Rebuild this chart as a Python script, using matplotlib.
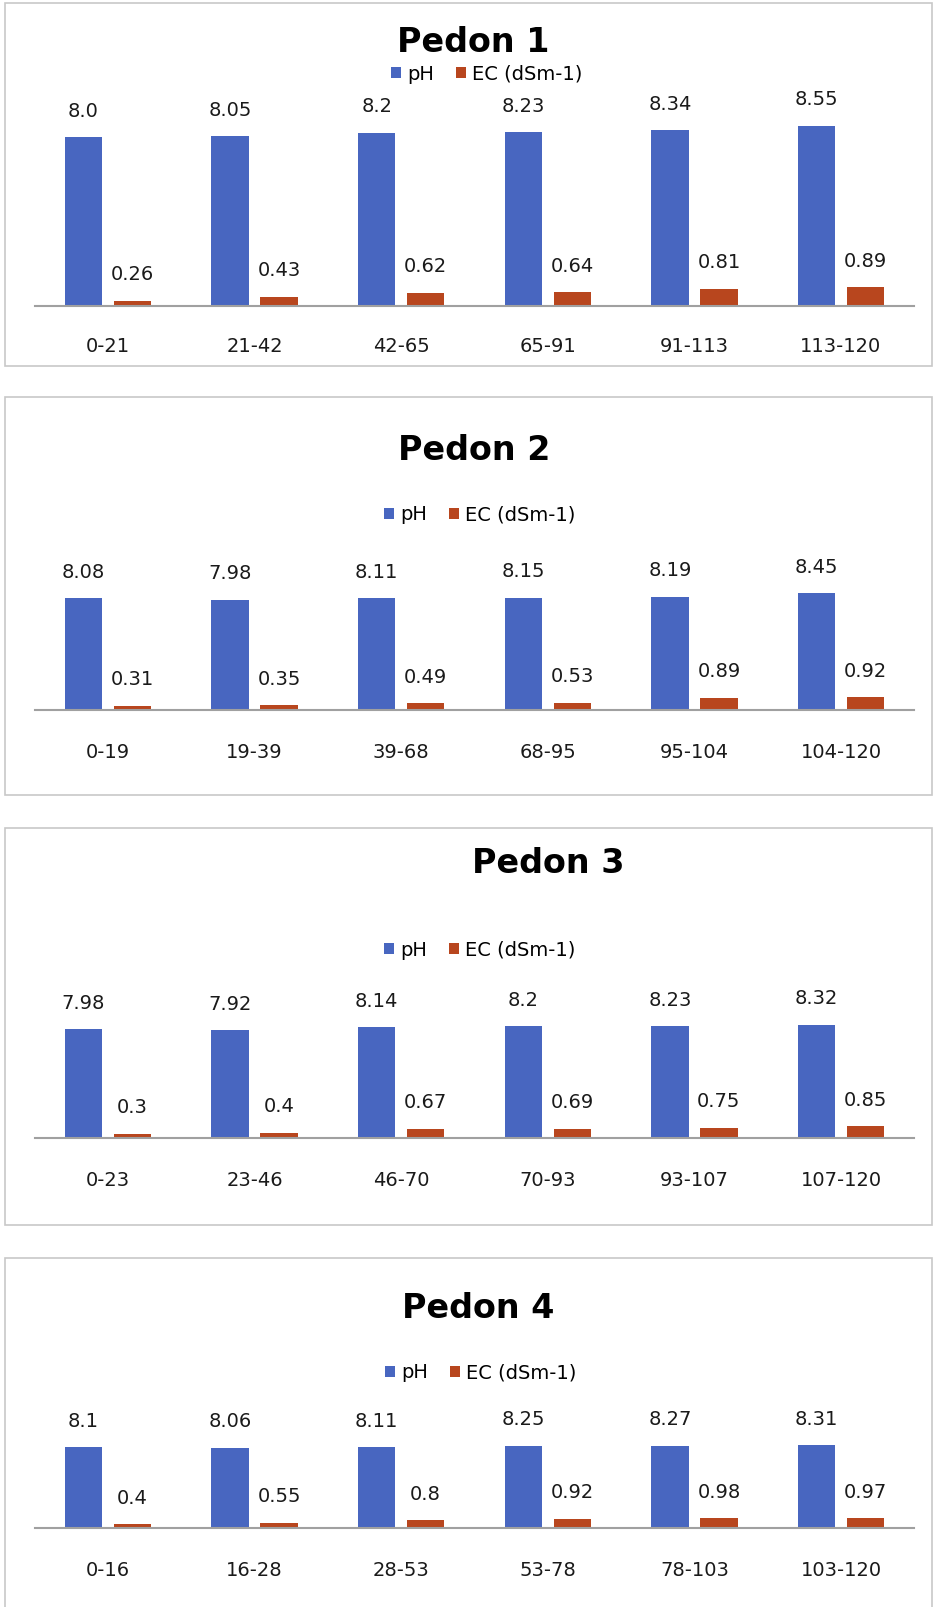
# coding=utf-8
# Four pedons: pH and EC (dSm-1) by soil depth

import matplotlib.pyplot as plt
from matplotlib.patches import Rectangle

plt.rcParams['font.family'] = ['DejaVu Sans']

# depth labels (cm) for each pedon
depth_p1 = ['0-21', '21-42', '42-65', '65-91', '91-113', '113-120']
depth_p2 = ['0-19', '19-39', '39-68', '68-95', '95-104', '104-120']
depth_p3 = ['0-23', '23-46', '46-70', '70-93', '93-107', '107-120']
depth_p4 = ['0-16', '16-28', '28-53', '53-78', '78-103', '103-120']

# pH values
ph_p1 = [8.0, 8.05, 8.2, 8.23, 8.34, 8.55]
ph_p2 = [8.08, 7.98, 8.11, 8.15, 8.19, 8.45]
ph_p3 = [7.98, 7.92, 8.14, 8.2, 8.23, 8.32]
ph_p4 = [8.1, 8.06, 8.11, 8.25, 8.27, 8.31]

# EC values (dSm-1)
ec_p1 = [0.26, 0.43, 0.62, 0.64, 0.81, 0.89]
ec_p2 = [0.31, 0.35, 0.49, 0.53, 0.89, 0.92]
ec_p3 = [0.3, 0.4, 0.67, 0.69, 0.75, 0.85]
ec_p4 = [0.4, 0.55, 0.8, 0.92, 0.98, 0.97]

titles = ['Pedon 1', 'Pedon 2', 'Pedon 3', 'Pedon 4']

W, H = 934, 1607
BLUE = '#4866C0'
RED = '#B8461E'

# layout per panel (pixels): box top/bottom, baseline, px per unit,
# title centre x / baseline, legend centre, tick label offset
panels = [
    dict(box=(3, 366), base=306, scale=21.1, title=(473, 52), leg=(487, 74), tick=41),
    dict(box=(397, 795), base=710, scale=13.8, title=(474, 460), leg=(480, 515), tick=42),
    dict(box=(828, 1225), base=1138, scale=13.6, title=(548, 873), leg=(480, 950), tick=42),
    dict(box=(1258, 1640), base=1528, scale=9.96, title=(478, 1318), leg=(481, 1373), tick=43),
]


def draw_pedon(fig, lay, title, depths, ph, ec):
    """绘制一个剖面的柱状图"""
    ax_h = 240
    left, right = 34.7, 914.3
    ax = fig.add_axes([left / W, 1 - lay['base'] / H, (right - left) / W, ax_h / H])
    ax.set_xlim(-0.5, 5.5)
    ax.set_ylim(0, ax_h / lay['scale'])

    x = list(range(len(depths)))
    off, bw = 0.167, 0.256
    b1 = ax.bar([i - off for i in x], ph, bw, color=BLUE, label='pH')
    b2 = ax.bar([i + off for i in x], ec, bw, color=RED, label='EC (dSm-1)')

    # data labels
    for i in x:
        ax.annotate(str(ph[i]), (i - off, ph[i]), xytext=(0, 26), textcoords='offset pixels',
                    ha='center', va='center', fontsize=14, color='#1a1a1a')
        ax.annotate(str(ec[i]), (i + off, ec[i]), xytext=(0, 26), textcoords='offset pixels',
                    ha='center', va='center', fontsize=14, color='#1a1a1a')
        ax.annotate(depths[i], (i, 0), xytext=(0, -lay['tick']), textcoords='offset pixels',
                    ha='center', va='center', fontsize=14, color='#1a1a1a', annotation_clip=False)

    for s in ['top', 'left', 'right']:
        ax.spines[s].set_visible(False)
    ax.spines['bottom'].set_color('#A0A0A0')
    ax.spines['bottom'].set_linewidth(1.5)
    ax.set_xticks([])
    ax.set_yticks([])
    ax.patch.set_alpha(0)

    tx, ty = lay['title']
    fig.text(tx / W, 1 - ty / H, title, ha='center', va='baseline',
             fontsize=24, fontweight='bold', color='black')

    lx, ly = lay['leg']
    ax.legend(handles=[b1, b2], loc='center', bbox_to_anchor=(lx / W, 1 - ly / H),
              bbox_transform=fig.transFigure, ncol=2, frameon=False, fontsize=14,
              handlelength=0.5, handleheight=0.5, handletextpad=0.35, columnspacing=1.1)

    # panel frame
    top, bot = lay['box']
    fig.patches.append(Rectangle((5 / W, 1 - bot / H), (932 - 5) / W, (bot - top) / H,
                                 transform=fig.transFigure, fill=False,
                                 edgecolor='#C8C8C8', linewidth=1.2))


def main():
    """主函数"""
    fig = plt.figure(figsize=(W / 100, H / 100), dpi=100)

    data = [(depth_p1, ph_p1, ec_p1), (depth_p2, ph_p2, ec_p2),
            (depth_p3, ph_p3, ec_p3), (depth_p4, ph_p4, ec_p4)]
    for lay, title, (d, p, e) in zip(panels, titles, data):
        draw_pedon(fig, lay, title, d, p, e)

    fig.savefig('out.png', dpi=100)


if __name__ == '__main__':
    main()
